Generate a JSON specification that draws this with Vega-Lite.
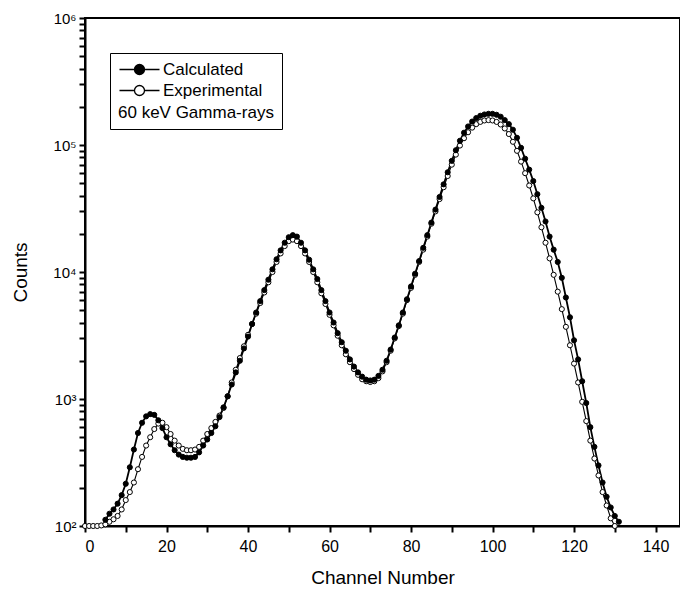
{
  "$schema": "https://vega.github.io/schema/vega-lite/v6.json",
  "width": 595,
  "height": 508,
  "autosize": {"type": "none"},
  "padding": {"left": 85, "top": 18, "right": 0, "bottom": 65},
  "background": "white",
  "config": {"view": {"stroke": "black", "strokeWidth": 2}, "font": "Liberation Sans"},
  "data": {"values": [
    {"channel":0,"counts":100,"series":"Experimental"},
    {"channel":1,"counts":100,"series":"Experimental"},
    {"channel":2,"counts":100,"series":"Experimental"},
    {"channel":3,"counts":100,"series":"Experimental"},
    {"channel":4,"counts":101,"series":"Experimental"},
    {"channel":5,"counts":103,"series":"Experimental"},
    {"channel":6,"counts":108,"series":"Experimental"},
    {"channel":7,"counts":113,"series":"Experimental"},
    {"channel":8,"counts":120,"series":"Experimental"},
    {"channel":9,"counts":135,"series":"Experimental"},
    {"channel":10,"counts":160,"series":"Experimental"},
    {"channel":11,"counts":185,"series":"Experimental"},
    {"channel":12,"counts":220,"series":"Experimental"},
    {"channel":13,"counts":280,"series":"Experimental"},
    {"channel":14,"counts":350,"series":"Experimental"},
    {"channel":15,"counts":430,"series":"Experimental"},
    {"channel":16,"counts":500,"series":"Experimental"},
    {"channel":17,"counts":580,"series":"Experimental"},
    {"channel":18,"counts":640,"series":"Experimental"},
    {"channel":19,"counts":650,"series":"Experimental"},
    {"channel":20,"counts":600,"series":"Experimental"},
    {"channel":21,"counts":530,"series":"Experimental"},
    {"channel":22,"counts":470,"series":"Experimental"},
    {"channel":23,"counts":430,"series":"Experimental"},
    {"channel":24,"counts":405,"series":"Experimental"},
    {"channel":25,"counts":395,"series":"Experimental"},
    {"channel":26,"counts":395,"series":"Experimental"},
    {"channel":27,"counts":400,"series":"Experimental"},
    {"channel":28,"counts":420,"series":"Experimental"},
    {"channel":29,"counts":470,"series":"Experimental"},
    {"channel":30,"counts":530,"series":"Experimental"},
    {"channel":31,"counts":590,"series":"Experimental"},
    {"channel":32,"counts":660,"series":"Experimental"},
    {"channel":33,"counts":740,"series":"Experimental"},
    {"channel":34,"counts":850,"series":"Experimental"},
    {"channel":35,"counts":1050,"series":"Experimental"},
    {"channel":36,"counts":1350,"series":"Experimental"},
    {"channel":37,"counts":1700,"series":"Experimental"},
    {"channel":38,"counts":2100,"series":"Experimental"},
    {"channel":39,"counts":2600,"series":"Experimental"},
    {"channel":40,"counts":3200,"series":"Experimental"},
    {"channel":41,"counts":3900,"series":"Experimental"},
    {"channel":42,"counts":4700,"series":"Experimental"},
    {"channel":43,"counts":5700,"series":"Experimental"},
    {"channel":44,"counts":6900,"series":"Experimental"},
    {"channel":45,"counts":8300,"series":"Experimental"},
    {"channel":46,"counts":10000,"series":"Experimental"},
    {"channel":47,"counts":12000,"series":"Experimental"},
    {"channel":48,"counts":14000,"series":"Experimental"},
    {"channel":49,"counts":16000,"series":"Experimental"},
    {"channel":50,"counts":17500,"series":"Experimental"},
    {"channel":51,"counts":18000,"series":"Experimental"},
    {"channel":52,"counts":17500,"series":"Experimental"},
    {"channel":53,"counts":16000,"series":"Experimental"},
    {"channel":54,"counts":14000,"series":"Experimental"},
    {"channel":55,"counts":12000,"series":"Experimental"},
    {"channel":56,"counts":10000,"series":"Experimental"},
    {"channel":57,"counts":8300,"series":"Experimental"},
    {"channel":58,"counts":6800,"series":"Experimental"},
    {"channel":59,"counts":5600,"series":"Experimental"},
    {"channel":60,"counts":4600,"series":"Experimental"},
    {"channel":61,"counts":3800,"series":"Experimental"},
    {"channel":62,"counts":3150,"series":"Experimental"},
    {"channel":63,"counts":2650,"series":"Experimental"},
    {"channel":64,"counts":2250,"series":"Experimental"},
    {"channel":65,"counts":1950,"series":"Experimental"},
    {"channel":66,"counts":1720,"series":"Experimental"},
    {"channel":67,"counts":1550,"series":"Experimental"},
    {"channel":68,"counts":1430,"series":"Experimental"},
    {"channel":69,"counts":1380,"series":"Experimental"},
    {"channel":70,"counts":1360,"series":"Experimental"},
    {"channel":71,"counts":1380,"series":"Experimental"},
    {"channel":72,"counts":1460,"series":"Experimental"},
    {"channel":73,"counts":1650,"series":"Experimental"},
    {"channel":74,"counts":1950,"series":"Experimental"},
    {"channel":75,"counts":2400,"series":"Experimental"},
    {"channel":76,"counts":3000,"series":"Experimental"},
    {"channel":77,"counts":3750,"series":"Experimental"},
    {"channel":78,"counts":4700,"series":"Experimental"},
    {"channel":79,"counts":6000,"series":"Experimental"},
    {"channel":80,"counts":7500,"series":"Experimental"},
    {"channel":81,"counts":9500,"series":"Experimental"},
    {"channel":82,"counts":12000,"series":"Experimental"},
    {"channel":83,"counts":15000,"series":"Experimental"},
    {"channel":84,"counts":19000,"series":"Experimental"},
    {"channel":85,"counts":24000,"series":"Experimental"},
    {"channel":86,"counts":30000,"series":"Experimental"},
    {"channel":87,"counts":37500,"series":"Experimental"},
    {"channel":88,"counts":46500,"series":"Experimental"},
    {"channel":89,"counts":57000,"series":"Experimental"},
    {"channel":90,"counts":70000,"series":"Experimental"},
    {"channel":91,"counts":84000,"series":"Experimental"},
    {"channel":92,"counts":99000,"series":"Experimental"},
    {"channel":93,"counts":113000,"series":"Experimental"},
    {"channel":94,"counts":126000,"series":"Experimental"},
    {"channel":95,"counts":137000,"series":"Experimental"},
    {"channel":96,"counts":146000,"series":"Experimental"},
    {"channel":97,"counts":152000,"series":"Experimental"},
    {"channel":98,"counts":156000,"series":"Experimental"},
    {"channel":99,"counts":157000,"series":"Experimental"},
    {"channel":100,"counts":156000,"series":"Experimental"},
    {"channel":101,"counts":152000,"series":"Experimental"},
    {"channel":102,"counts":145000,"series":"Experimental"},
    {"channel":103,"counts":135000,"series":"Experimental"},
    {"channel":104,"counts":122000,"series":"Experimental"},
    {"channel":105,"counts":106000,"series":"Experimental"},
    {"channel":106,"counts":90000,"series":"Experimental"},
    {"channel":107,"counts":74000,"series":"Experimental"},
    {"channel":108,"counts":60000,"series":"Experimental"},
    {"channel":109,"counts":48000,"series":"Experimental"},
    {"channel":110,"counts":38000,"series":"Experimental"},
    {"channel":111,"counts":29500,"series":"Experimental"},
    {"channel":112,"counts":22500,"series":"Experimental"},
    {"channel":113,"counts":17000,"series":"Experimental"},
    {"channel":114,"counts":12800,"series":"Experimental"},
    {"channel":115,"counts":9500,"series":"Experimental"},
    {"channel":116,"counts":7000,"series":"Experimental"},
    {"channel":117,"counts":5100,"series":"Experimental"},
    {"channel":118,"counts":3700,"series":"Experimental"},
    {"channel":119,"counts":2650,"series":"Experimental"},
    {"channel":120,"counts":1900,"series":"Experimental"},
    {"channel":121,"counts":1350,"series":"Experimental"},
    {"channel":122,"counts":950,"series":"Experimental"},
    {"channel":123,"counts":670,"series":"Experimental"},
    {"channel":124,"counts":470,"series":"Experimental"},
    {"channel":125,"counts":340,"series":"Experimental"},
    {"channel":126,"counts":250,"series":"Experimental"},
    {"channel":127,"counts":185,"series":"Experimental"},
    {"channel":128,"counts":145,"series":"Experimental"},
    {"channel":129,"counts":115,"series":"Experimental"},
    {"channel":130,"counts":100,"series":"Experimental"},
    {"channel":5,"counts":112,"series":"Calculated"},
    {"channel":6,"counts":125,"series":"Calculated"},
    {"channel":7,"counts":135,"series":"Calculated"},
    {"channel":8,"counts":150,"series":"Calculated"},
    {"channel":9,"counts":175,"series":"Calculated"},
    {"channel":10,"counts":215,"series":"Calculated"},
    {"channel":11,"counts":290,"series":"Calculated"},
    {"channel":12,"counts":400,"series":"Calculated"},
    {"channel":13,"counts":540,"series":"Calculated"},
    {"channel":14,"counts":650,"series":"Calculated"},
    {"channel":15,"counts":730,"series":"Calculated"},
    {"channel":16,"counts":760,"series":"Calculated"},
    {"channel":17,"counts":750,"series":"Calculated"},
    {"channel":18,"counts":680,"series":"Calculated"},
    {"channel":19,"counts":590,"series":"Calculated"},
    {"channel":20,"counts":500,"series":"Calculated"},
    {"channel":21,"counts":440,"series":"Calculated"},
    {"channel":22,"counts":395,"series":"Calculated"},
    {"channel":23,"counts":365,"series":"Calculated"},
    {"channel":24,"counts":350,"series":"Calculated"},
    {"channel":25,"counts":345,"series":"Calculated"},
    {"channel":26,"counts":345,"series":"Calculated"},
    {"channel":27,"counts":350,"series":"Calculated"},
    {"channel":28,"counts":380,"series":"Calculated"},
    {"channel":29,"counts":430,"series":"Calculated"},
    {"channel":30,"counts":480,"series":"Calculated"},
    {"channel":31,"counts":540,"series":"Calculated"},
    {"channel":32,"counts":610,"series":"Calculated"},
    {"channel":33,"counts":720,"series":"Calculated"},
    {"channel":34,"counts":860,"series":"Calculated"},
    {"channel":35,"counts":1050,"series":"Calculated"},
    {"channel":36,"counts":1300,"series":"Calculated"},
    {"channel":37,"counts":1620,"series":"Calculated"},
    {"channel":38,"counts":2000,"series":"Calculated"},
    {"channel":39,"counts":2500,"series":"Calculated"},
    {"channel":40,"counts":3100,"series":"Calculated"},
    {"channel":41,"counts":3900,"series":"Calculated"},
    {"channel":42,"counts":4800,"series":"Calculated"},
    {"channel":43,"counts":5900,"series":"Calculated"},
    {"channel":44,"counts":7200,"series":"Calculated"},
    {"channel":45,"counts":8700,"series":"Calculated"},
    {"channel":46,"counts":10500,"series":"Calculated"},
    {"channel":47,"counts":12600,"series":"Calculated"},
    {"channel":48,"counts":14800,"series":"Calculated"},
    {"channel":49,"counts":17000,"series":"Calculated"},
    {"channel":50,"counts":18800,"series":"Calculated"},
    {"channel":51,"counts":19500,"series":"Calculated"},
    {"channel":52,"counts":19000,"series":"Calculated"},
    {"channel":53,"counts":17000,"series":"Calculated"},
    {"channel":54,"counts":14800,"series":"Calculated"},
    {"channel":55,"counts":12500,"series":"Calculated"},
    {"channel":56,"counts":10500,"series":"Calculated"},
    {"channel":57,"counts":8800,"series":"Calculated"},
    {"channel":58,"counts":7200,"series":"Calculated"},
    {"channel":59,"counts":5900,"series":"Calculated"},
    {"channel":60,"counts":4800,"series":"Calculated"},
    {"channel":61,"counts":4000,"series":"Calculated"},
    {"channel":62,"counts":3300,"series":"Calculated"},
    {"channel":63,"counts":2800,"series":"Calculated"},
    {"channel":64,"counts":2400,"series":"Calculated"},
    {"channel":65,"counts":2050,"series":"Calculated"},
    {"channel":66,"counts":1800,"series":"Calculated"},
    {"channel":67,"counts":1620,"series":"Calculated"},
    {"channel":68,"counts":1500,"series":"Calculated"},
    {"channel":69,"counts":1420,"series":"Calculated"},
    {"channel":70,"counts":1400,"series":"Calculated"},
    {"channel":71,"counts":1420,"series":"Calculated"},
    {"channel":72,"counts":1520,"series":"Calculated"},
    {"channel":73,"counts":1700,"series":"Calculated"},
    {"channel":74,"counts":2000,"series":"Calculated"},
    {"channel":75,"counts":2450,"series":"Calculated"},
    {"channel":76,"counts":3050,"series":"Calculated"},
    {"channel":77,"counts":3800,"series":"Calculated"},
    {"channel":78,"counts":4800,"series":"Calculated"},
    {"channel":79,"counts":6100,"series":"Calculated"},
    {"channel":80,"counts":7700,"series":"Calculated"},
    {"channel":81,"counts":9700,"series":"Calculated"},
    {"channel":82,"counts":12200,"series":"Calculated"},
    {"channel":83,"counts":15500,"series":"Calculated"},
    {"channel":84,"counts":19500,"series":"Calculated"},
    {"channel":85,"counts":24500,"series":"Calculated"},
    {"channel":86,"counts":31000,"series":"Calculated"},
    {"channel":87,"counts":39000,"series":"Calculated"},
    {"channel":88,"counts":49000,"series":"Calculated"},
    {"channel":89,"counts":61000,"series":"Calculated"},
    {"channel":90,"counts":75000,"series":"Calculated"},
    {"channel":91,"counts":91000,"series":"Calculated"},
    {"channel":92,"counts":108000,"series":"Calculated"},
    {"channel":93,"counts":125000,"series":"Calculated"},
    {"channel":94,"counts":140000,"series":"Calculated"},
    {"channel":95,"counts":153000,"series":"Calculated"},
    {"channel":96,"counts":163000,"series":"Calculated"},
    {"channel":97,"counts":170000,"series":"Calculated"},
    {"channel":98,"counts":174000,"series":"Calculated"},
    {"channel":99,"counts":176000,"series":"Calculated"},
    {"channel":100,"counts":176000,"series":"Calculated"},
    {"channel":101,"counts":173000,"series":"Calculated"},
    {"channel":102,"counts":167000,"series":"Calculated"},
    {"channel":103,"counts":157000,"series":"Calculated"},
    {"channel":104,"counts":146000,"series":"Calculated"},
    {"channel":105,"counts":132000,"series":"Calculated"},
    {"channel":106,"counts":114000,"series":"Calculated"},
    {"channel":107,"counts":95000,"series":"Calculated"},
    {"channel":108,"counts":78000,"series":"Calculated"},
    {"channel":109,"counts":64000,"series":"Calculated"},
    {"channel":110,"counts":52000,"series":"Calculated"},
    {"channel":111,"counts":41000,"series":"Calculated"},
    {"channel":112,"counts":32000,"series":"Calculated"},
    {"channel":113,"counts":25000,"series":"Calculated"},
    {"channel":114,"counts":19000,"series":"Calculated"},
    {"channel":115,"counts":15000,"series":"Calculated"},
    {"channel":116,"counts":12000,"series":"Calculated"},
    {"channel":117,"counts":9000,"series":"Calculated"},
    {"channel":118,"counts":6300,"series":"Calculated"},
    {"channel":119,"counts":4400,"series":"Calculated"},
    {"channel":120,"counts":2900,"series":"Calculated"},
    {"channel":121,"counts":2050,"series":"Calculated"},
    {"channel":122,"counts":1380,"series":"Calculated"},
    {"channel":123,"counts":930,"series":"Calculated"},
    {"channel":124,"counts":600,"series":"Calculated"},
    {"channel":125,"counts":420,"series":"Calculated"},
    {"channel":126,"counts":300,"series":"Calculated"},
    {"channel":127,"counts":220,"series":"Calculated"},
    {"channel":128,"counts":170,"series":"Calculated"},
    {"channel":129,"counts":140,"series":"Calculated"},
    {"channel":130,"counts":120,"series":"Calculated"},
    {"channel":131,"counts":108,"series":"Calculated"}
  ]},
  "encoding": {
    "x": {"field": "channel", "type": "quantitative",
      "scale": {"domain": [0, 146], "nice": false, "zero": false},
      "axis": {"values": [0,10,20,30,40,50,60,70,80,90,100,110,120,130,140],
        "labelExpr": "datum.value % 20 === 0 ? datum.label : ''",
        "gridOpacity": 0,
        "title": "Channel Number", "titlePadding": 14, "labelPadding": 6,
        "titleFont": "Liberation Sans", "titleFontSize": 19, "titleFontWeight": "normal", "titleColor": "black",
        "labelFont": "Liberation Sans", "labelFontSize": 16, "labelColor": "black",
        "domainColor": "black", "domainWidth": 2,
        "tickSize": 6, "tickColor": "black", "tickWidth": 2}},
    "y": {"field": "counts", "type": "quantitative",
      "scale": {"type": "log", "domain": [100, 1000000], "nice": false},
      "axis": {"title": "Counts", "titlePadding": 22, "gridOpacity": 0,
        "values": [100,200,300,400,500,600,700,800,900,1000,2000,3000,4000,5000,6000,7000,8000,9000,10000,20000,30000,40000,50000,60000,70000,80000,90000,100000,200000,300000,400000,500000,600000,700000,800000,900000,1000000],
        "labelExpr": "datum.value == 100 ? '10²' : datum.value == 1000 ? '10³' : datum.value == 10000 ? '10⁴' : datum.value == 100000 ? '10⁵' : datum.value == 1000000 ? '10⁶' : ''",
        "titleFont": "Liberation Sans", "titleFontSize": 19, "titleFontWeight": "normal", "titleColor": "black",
        "labelFont": "Liberation Sans", "labelFontSize": 15, "labelColor": "black", "labelPadding": 3,
        "domainColor": "black", "domainWidth": 2,
        "tickSize": 6, "tickColor": "black", "tickWidth": 2}}
  },
  "layer": [
    {
      "transform": [{"filter": "datum.series === 'Experimental'"}],
      "mark": {"type": "line", "color": "black", "strokeWidth": 1.1}
    },
    {
      "transform": [{"filter": "datum.series === 'Calculated'"}],
      "mark": {"type": "line", "color": "black", "strokeWidth": 1.8}
    },
    {
      "mark": {"type": "circle", "stroke": "black", "strokeWidth": 1, "size": 26, "opacity": 1},
      "encoding": {
        "fill": {"field": "series", "type": "nominal",
          "scale": {"domain": ["Calculated", "Experimental"], "range": ["black", "white"]},
          "legend": {
            "orient": "none", "legendX": 25, "legendY": 35,
            "title": "60 keV Gamma-rays", "titleOrient": "bottom", "titleAnchor": "start",
            "titleFontWeight": "normal", "titleFontSize": 17, "titleFont": "Liberation Sans", "titleColor": "black",
            "titlePadding": 6,
            "labelFontSize": 17, "labelFont": "Liberation Sans", "labelColor": "black",
            "symbolType": "M-4,0L-1,0M1,0L4,0M-1,0A1,1 0 1,1 1,0A1,1 0 1,1 -1,0Z",
            "symbolSize": 100, "symbolStrokeColor": "black", "symbolStrokeWidth": 1.3,
            "symbolOffset": 13, "labelOffset": 15, "rowPadding": 3,
            "strokeColor": "black", "fillColor": "white", "padding": 8
          }}
      }
    }
  ]
}
